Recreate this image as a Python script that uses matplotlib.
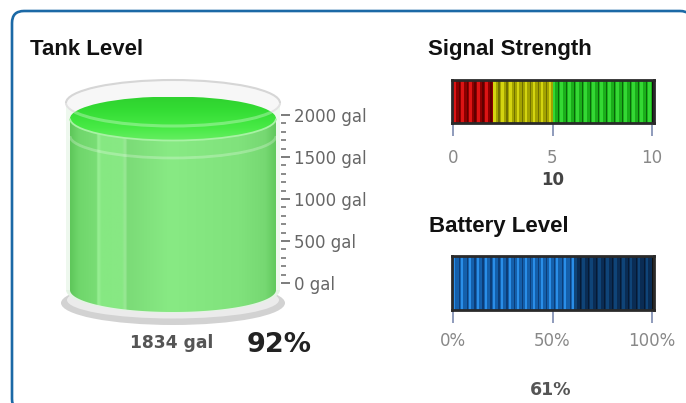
import numpy as np
import matplotlib
matplotlib.use("Agg")
import matplotlib.pyplot as plt
from matplotlib.patches import Ellipse, Rectangle, FancyBboxPatch, PathPatch, Arc
from matplotlib.path import Path
from matplotlib.colors import LinearSegmentedColormap

# ---------------- data ----------------
tank_title = "Tank Level"
tank_gallons = 1834
tank_capacity = 2000
tank_ticks = [0, 500, 1000, 1500, 2000]
tank_tick_labels = ["0 gal", "500 gal", "1000 gal", "1500 gal", "2000 gal"]
tank_minor_step = 100

signal_title = "Signal Strength"
signal_value = 10
signal_max = 10
signal_ticks = [0, 5, 10]
signal_tick_labels = ["0", "5", "10"]
signal_zone_edges = [0, 2, 5, 10]

battery_title = "Battery Level"
battery_value = 61
battery_max = 100
battery_ticks = [0, 50, 100]
battery_tick_labels = ["0%", "50%", "100%"]

# ---------------- figure ----------------
W, H = 686, 403
fig = plt.figure(figsize=(W / 100, H / 100), dpi=100)
fig.patch.set_facecolor("white")


def axes_px(x0, y0, x1, y1):
    return fig.add_axes([x0 / W, 1 - y1 / H, (x1 - x0) / W, (y1 - y0) / H])


bg = axes_px(0, 0, W, H)
bg.set_xlim(0, W)
bg.set_ylim(H, 0)
bg.axis("off")
bg.set_zorder(-5)
bg.add_patch(FancyBboxPatch((12, 11), 680, 400,
                            boxstyle="round,pad=0,rounding_size=12",
                            fc="white", ec="#1b69a6", lw=1.9))

TITLE = dict(fontfamily="Liberation Sans", fontweight="bold", fontsize=16,
             color="#111111", va="baseline", ha="left")
bg.text(30, 55, tank_title, **TITLE)
bg.text(428, 55, signal_title, **TITLE)
bg.text(429, 232, battery_title, **TITLE)

pct = round(tank_gallons / tank_capacity * 100)
bg.text(130, 348, f"{tank_gallons} gal", fontfamily="DejaVu Sans",
        fontweight="bold", fontsize=12.3, color="#555555", va="baseline")
bg.text(247, 352, f"{pct}%", fontfamily="DejaVu Sans", fontweight="bold",
        fontsize=19.5, color="#222222", va="baseline")
bg.text(553, 185, f"{signal_value}", fontfamily="DejaVu Sans",
        fontweight="bold", fontsize=12, color="#444444", va="baseline",
        ha="center")
bg.text(551, 395, f"{battery_value}%", fontfamily="DejaVu Sans",
        fontweight="bold", fontsize=12.5, color="#555555", va="baseline",
        ha="center")

# ---------------- tank ----------------
tx0, tx1, ty0, ty1 = 40, 300, 60, 345
bottom_px, top_px = 290, 103
k = (bottom_px - top_px) / tank_capacity
ax_t = axes_px(tx0, ty0, tx1, ty1)
ax_t.set_xlim(tx0, tx1)
ax_t.set_ylim((bottom_px - ty1) / k, (bottom_px - ty0) / k)
ax_t.axis("off")


def g(px):
    return (bottom_px - px) / k


def gh(pxh):
    return pxh / k


cx = 173
# base shadow ring
ax_t.add_patch(Ellipse((cx, g(303)), 224, gh(44), fc="#d2d2d2", ec="none", zorder=1))
ax_t.add_patch(Ellipse((cx, g(300)), 212, gh(37), fc="#ebebeb", ec="none", zorder=1.1))
# glass body
ax_t.add_patch(Ellipse((cx, 0), 214, gh(46), fc="#e4f3e4", ec="none", zorder=1.5))
ax_t.add_patch(Rectangle((cx - 107, 0), 214, tank_capacity, fc="#eef8ee",
                         ec="none", zorder=1.5))
ax_t.add_patch(Ellipse((cx, tank_capacity), 214, gh(46), fc="#f7f7f7",
                       ec="#d6d6d6", lw=1.5, zorder=2))

# liquid body
half_w = 103
hh = gh(22)
theta = np.linspace(np.pi, 2 * np.pi, 80)
xs = cx + half_w * np.cos(theta)
ys = hh * np.sin(theta)
verts = [(cx - half_w, tank_gallons)] + list(zip(xs, ys)) + \
        [(cx + half_w, tank_gallons), (cx - half_w, tank_gallons)]
codes = [Path.MOVETO] + [Path.LINETO] * (len(verts) - 2) + [Path.CLOSEPOLY]
body = PathPatch(Path(verts, codes), fc="none", ec="none", zorder=3)
ax_t.add_patch(body)

xl, xr = cx - half_w, cx + half_w
stops = [(70, "#5fc75b"), (78, "#6fd66b"), (96, "#79dd75"), (98, "#9aef96"),
         (101, "#86e882"), (122, "#88e884"), (125, "#9ae896"), (127, "#7bdb77"),
         (170, "#88ea84"), (240, "#80e27c"), (266, "#76d872"), (276, "#62c95e")]
cmap_body = LinearSegmentedColormap.from_list(
    "body", [((p - xl) / (xr - xl), c) for p, c in stops])
im = ax_t.imshow(np.linspace(0, 1, 400)[None, :], extent=[xl, xr, -hh, tank_gallons],
                 cmap=cmap_body, aspect="auto", zorder=3, interpolation="bilinear")
im.set_clip_path(body)

# liquid top surface
top = Ellipse((cx, tank_gallons), 2 * half_w, 2 * hh, fc="none", ec="none", zorder=4)
ax_t.add_patch(top)
cmap_top = LinearSegmentedColormap.from_list(
    "top", [(0, "#66ee62"), (0.3, "#48ea46"), (0.7, "#34dd34"), (1, "#2fd22f")])
im2 = ax_t.imshow(np.linspace(0, 1, 200)[:, None],
                  extent=[xl, xr, tank_gallons - hh, tank_gallons + hh],
                  cmap=cmap_top, aspect="auto", origin="lower", zorder=4,
                  interpolation="bilinear")
im2.set_clip_path(top)
ax_t.add_patch(Arc((cx, tank_gallons), 2 * half_w, 2 * hh, theta1=180, theta2=360,
                   color="#a8f2a4", lw=1.3, zorder=5))
# glass reflections
ax_t.add_patch(Arc((cx, tank_capacity), 214, gh(46), theta1=180, theta2=360,
                   color="white", alpha=0.3, lw=2.2, zorder=6))
ax_t.add_patch(Arc((cx, g(136)), 206, gh(44), theta1=180, theta2=360,
                   color="white", alpha=0.25, lw=2.0, zorder=6))

# gallon scale
ax_s = axes_px(200, 115, 281, 283)
ax_s.set_ylim(0, tank_capacity)
ax_s.patch.set_visible(False)
for s in ax_s.spines.values():
    s.set_visible(False)
ax_s.set_xticks([])
ax_s.yaxis.tick_right()
ax_s.set_yticks(tank_ticks, tank_tick_labels)
ax_s.set_yticks(np.arange(0, tank_capacity + 1, tank_minor_step), minor=True)
ax_s.tick_params(axis="y", which="major", length=6.5, width=1.2, color="#666666",
                 direction="out", pad=3, labelsize=12, labelcolor="#666666")
ax_s.tick_params(axis="y", which="minor", length=3.5, width=1.2, color="#777777",
                 direction="out")
for lab in ax_s.get_yticklabels():
    lab.set_fontfamily("DejaVu Sans")


# ---------------- bars ----------------
def bar_axes(y0, y1, vmax, ticks, labels, pad):
    ax = axes_px(452, y0, 654, y1)
    ppu = (652 - 453) / vmax
    ax.set_xlim((452 - 453) / ppu, (654 - 453) / ppu)
    ax.set_ylim(0, 1)
    ax.set_facecolor("#111111")
    for s in ax.spines.values():
        s.set_color("#2a2a2a")
        s.set_linewidth(2.0)
    ax.set_yticks([])
    ax.set_xticks(ticks, labels)
    ax.tick_params(axis="x", length=9.5, width=1.4, color="#8e9bbb", pad=pad,
                   labelsize=12, labelcolor="#888888")
    return ax


def stripes(ax, start, end, base, light, dark, period, lw_frac=0.35):
    if end <= start:
        return
    ax.axvspan(start, end, color=base, lw=0)
    for s in np.arange(start, end, period):
        ax.axvspan(s, min(s + lw_frac * period, end), color=light, lw=0)
        a = min(s + 0.7 * period, end)
        b = min(s + 0.85 * period, end)
        if b > a:
            ax.axvspan(a, b, color=dark, lw=0)


ax_sig = bar_axes(80, 123, signal_max, signal_ticks, signal_tick_labels, 9)
sig_colors = [("#8c0000", "#dc1414", "#600000"),
              ("#a2a200", "#d4d410", "#707000"),
              ("#1aae1a", "#34d834", "#0a660a")]
for (a, b), (base, light, dark) in zip(zip(signal_zone_edges[:-1], signal_zone_edges[1:]),
                                       sig_colors):
    stripes(ax_sig, a, min(b, signal_value), base, light, dark, 0.4)

ax_bat = bar_axes(256, 310, battery_max, battery_ticks, battery_tick_labels, 6)
stripes(ax_bat, 0, battery_value, "#145fab", "#2a8ee8", "#0c3d78", 4.0, 0.25)
stripes(ax_bat, battery_value, battery_max, "#0a2c54", "#0f4478", "#061a34", 4.0, 0.3)

fig.savefig("out.png", dpi=100, facecolor="white")
